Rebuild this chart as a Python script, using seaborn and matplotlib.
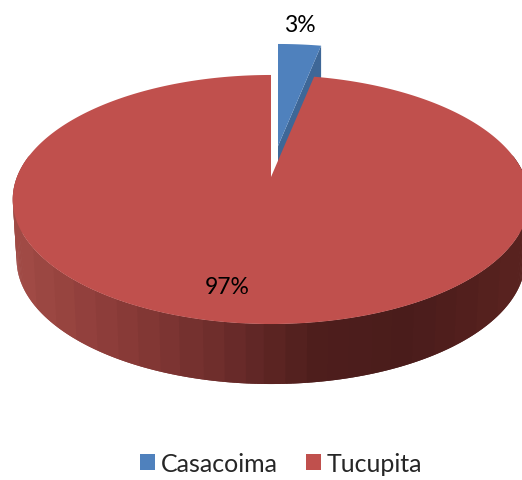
import numpy as np
import matplotlib
matplotlib.use("Agg")
import matplotlib.pyplot as plt
from matplotlib.patches import Patch
import seaborn as sns

sns.set_theme(style="white")
plt.rcParams["font.family"] = ["Lato", "DejaVu Sans"]

# Datos
regiones = ["Casacoima", "Tucupita"]
valores = [3.2, 96.8]
colores = ["#4F81BD", "#C0504D"]
color_lado_azul = "#3E6797"
# degradado del lado del disco, de izquierda a derecha
colores_lado = ["#A04A45", "#8A3B38", "#6E2D2C", "#4E1E1C", "#4A1C1B", "#58221F"]

# Geometria del disco en perspectiva (pixeles)
cx, ap_y = 271, 178
radio_x = 254
pers = 0.1807
k_y = -88.3
grosor = 60
sep_x, sep_y = 7, -31


def proyectar(ang, r=1.0):
    # ang medido desde las 12 en sentido horario
    u = r * np.sin(ang)
    v = r * np.cos(ang)
    d = pers * v + 1
    return cx + radio_x * u / d, (k_y * v + ap_y) / d


fig, ax = plt.subplots(figsize=(5.22, 4.81), dpi=100)
ax.set_position([0, 0, 1, 1])
ax.set_xlim(0, 522)
ax.set_ylim(481, 0)
ax.axis("off")

cortes = np.cumsum([0] + valores) / sum(valores) * 2 * np.pi

# Sector azul separado: cara interior y tapa
a0, a1 = cortes[0], cortes[1]
arco = np.linspace(a0, a1, 20)
xa, ya = proyectar(arco)
xa, ya = xa + sep_x, ya + sep_y
ap_ax, ap_ay = cx + sep_x, ap_y + sep_y
ax.fill([ap_ax, xa[-1], xa[-1], ap_ax], [ap_ay, ya[-1], ya[-1] + grosor, ap_ay + grosor],
        color=color_lado_azul, lw=0, zorder=1)
ax.fill(np.r_[ap_ax, xa], np.r_[ap_ay, ya], color=colores[0], lw=0, zorder=2)

# Lado del sector rojo, por bandas solapadas de derecha a izquierda
n_bandas = 300
borde = np.linspace(np.pi * 0.44, np.pi * 1.56, n_bandas + 1)
xb, yb = proyectar(borde)
paleta = sns.blend_palette(colores_lado, 24)
for i in range(n_bandas - 1):
    xs = [xb[i], xb[i + 2], cx + (xb[i + 2] - cx) * 0.985, cx + (xb[i] - cx) * 0.985]
    ys = [yb[i], yb[i + 2], yb[i + 2] + grosor, yb[i] + grosor]
    medio = np.clip(xb[i], 12, 522)
    idx = int((medio - 12) / 510 * 23.99)
    ax.fill(xs, ys, color=paleta[idx], lw=0, zorder=3)

# Tapa del sector rojo
a0, a1 = cortes[1], cortes[2]
arco = np.linspace(a0, a1, 400)
xr, yr = proyectar(arco)
ax.fill(np.r_[cx, xr], np.r_[ap_y, yr], color=colores[1], lw=0, zorder=4)

# Etiquetas
etiquetas = [f"{v:.0f}%" for v in valores]
ax.text(300, 25, etiquetas[0], ha="center", va="center", fontsize=16.5, color="black", zorder=5)
ax.text(227, 288, etiquetas[1], ha="center", va="center", fontsize=16.5, color="black", zorder=5)

# Leyenda
handles = [Patch(facecolor=c, edgecolor="none", label=r) for c, r in zip(colores, regiones)]
ax.legend(handles=handles, loc="lower center", bbox_to_anchor=(0.539, -0.016), ncol=2,
          frameon=False, fontsize=18, handlelength=0.6, handleheight=0.6,
          handletextpad=0.25, columnspacing=1.1, borderpad=0)

fig.savefig("out.png", dpi=100)
